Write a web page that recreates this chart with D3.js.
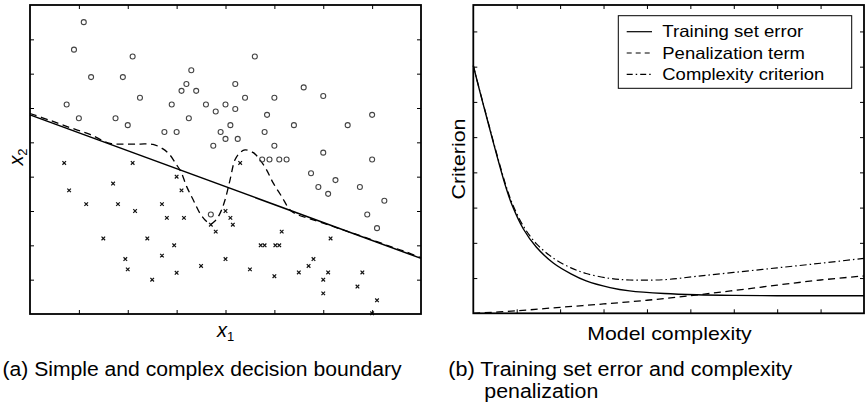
<!DOCTYPE html>
<html>
<head>
<meta charset="utf-8">
<script src="https://cdn.jsdelivr.net/npm/d3@7"></script>
<style>
  html, body { margin: 0; padding: 0; background: #fff; }
  svg { display: block; }
</style>
</head>
<body>
<svg id="chart" width="866" height="406" font-family="'Liberation Sans', Arial, Helvetica, sans-serif"></svg>
<script>
// ---------- Panel (a) data ----------
const circlesX = [1.10,0.90,2.10,1.25,1.90,3.30,3.20,3.10,3.40,2.25,0.75,2.90,3.60,3.80,1.00,1.75,3.25,2.00,2.75,3.00,3.90,3.75,
  4.60,4.20,5.60,4.40,5.00,6.00,4.00,4.20,4.85,7.00,4.10,5.40,6.50,4.80,4.00,4.25,5.00,6.00,4.75,4.90,5.10,5.25,7.00,
  5.75,6.25,5.90,6.10,6.75,7.25,6.90,7.10,3.70];
const circlesY = [8.50,7.70,7.50,6.90,6.90,7.10,6.70,6.50,6.50,6.30,6.10,6.10,6.10,5.90,5.70,5.70,5.70,5.50,5.30,5.30,5.30,4.90,
  7.50,6.70,6.60,6.30,6.30,6.35,6.10,5.97,5.80,5.80,5.50,5.50,5.50,5.30,5.10,5.10,4.90,4.70,4.50,4.50,4.50,4.50,4.50,
  4.10,3.90,3.70,3.50,3.70,3.30,2.90,2.50,2.90];
const crossesX = [0.70,2.10,4.30,3.00,1.70,0.80,3.10,1.15,1.80,2.70,2.15,4.00,2.80,3.15,4.10,3.70,4.15,3.80,5.15,6.15,1.50,2.40,
  2.95,4.72,4.80,5.02,5.10,2.70,1.95,4.00,5.80,2.00,3.50,4.50,5.70,3.00,5.50,6.10,6.80,5.00,2.50,6.00,6.70,6.00,7.10,7.00];
const crossesY = [4.40,4.40,4.40,4.00,3.80,3.60,3.60,3.20,3.20,3.20,3.00,3.00,2.80,2.80,2.80,2.60,2.60,2.40,2.40,2.20,2.20,2.20,
  2.00,2.00,2.00,2.00,2.00,1.70,1.60,1.60,1.60,1.30,1.40,1.30,1.40,1.20,1.21,1.21,1.21,1.10,1.00,1.00,0.80,0.60,0.40,0.02];
// simple (linear) boundary
const simpleX = [0, 8];
const simpleY = [5.80, 1.62];
// complex boundary
const complexX = [0,0.409,0.818,1.228,1.637,1.944,2.251,2.517,2.721,2.864,2.987,3.090,3.206,3.341,3.478,3.581,3.693,3.785,3.888,
  3.990,4.092,4.194,4.297,4.399,4.569,4.706,4.843,4.978,5.150,5.320,5.463,5.729,6.138,6.547,6.957,7.366,7.673,8];
const complexY = [5.84,5.64,5.43,5.23,4.97,4.95,4.95,4.94,4.81,4.63,4.37,4.14,3.71,3.32,2.93,2.74,2.62,2.71,2.93,
  3.32,3.90,4.49,4.70,4.78,4.70,4.49,4.19,3.81,3.42,3.03,2.90,2.77,2.58,2.38,2.18,1.97,1.82,1.64];
const aXTicks = [1,2,3,4,5,6,7];
const aYTicks = [1,2,3,4,5,6,7,8];

// ---------- Panel (b) data ----------
const curveX   = [0,0.15,0.3,0.45,0.6,0.75,0.9,1.15,1.45,1.85,2.25,2.6,3.15,3.6,4.4,5.15,6,7,8,9];
const trainErr = [7.03,6.30,5.60,4.90,4.22,3.58,3.05,2.40,1.88,1.42,1.12,0.92,0.73,0.635,0.56,0.525,0.508,0.5,0.5,0.5];
const criterion= [7.03,6.31,5.62,4.93,4.26,3.63,3.11,2.48,1.98,1.56,1.29,1.13,0.99,0.945,0.955,1.05,1.16,1.29,1.42,1.56];
const penX     = [0,1,2,3,4,5,6,7,8,9];
const penalty  = [0,0.07,0.17,0.265,0.37,0.50,0.645,0.80,0.945,1.06];
const bXTicks = [1,2,3,4,5,6,7,8];
const bYTicks = [1,2,3,4,5,6,7,8];
const legendLabels = ["Training set error","Penalization term","Complexity criterion"];

// ---------- drawing ----------
const svg = d3.select("#chart");

function frame(g, x, y, xt, yt) {
  const [x0, x1] = x.range();
  const [y0, y1] = y.range();
  const tk = 4;
  const mk = (axis, tr) => {
    const a = g.append("g").attr("transform", tr)
      .call(axis.tickSizeInner(-tk).tickSizeOuter(0).tickFormat(""));
    a.select(".domain").remove();
    a.selectAll("line").attr("stroke", "#000").attr("stroke-width", 1);
  };
  mk(d3.axisBottom(x).tickValues(xt), `translate(0,${y0})`);
  mk(d3.axisTop(x).tickValues(xt), `translate(0,${y1})`);
  mk(d3.axisLeft(y).tickValues(yt), `translate(${x0},0)`);
  mk(d3.axisRight(y).tickValues(yt), `translate(${x1},0)`);
  g.append("rect").attr("x", x0).attr("y", y1)
    .attr("width", x1 - x0).attr("height", y0 - y1)
    .attr("fill", "none").attr("stroke", "#000").attr("stroke-width", 1.8);
}

// Panel (a)
const xa = d3.scaleLinear().domain([0, 8]).range([30, 421]);
const ya = d3.scaleLinear().domain([0, 9]).range([314, 5]);
const ga = svg.append("g");

const lineA = d3.line().x(d => xa(d[0])).y(d => ya(d[1]));
ga.append("path")
  .datum(simpleX.map((v, i) => [v, simpleY[i]]))
  .attr("d", lineA).attr("fill", "none").attr("stroke", "#000").attr("stroke-width", 1.5);
ga.append("path")
  .datum(complexX.map((v, i) => [v, complexY[i]]))
  .attr("d", lineA.curve(d3.curveCatmullRom))
  .attr("fill", "none").attr("stroke", "#000").attr("stroke-width", 1.3)
  .attr("stroke-dasharray", "7,4.5");

ga.selectAll("circle.o").data(circlesX.map((v, i) => [v, circlesY[i]])).join("circle")
  .attr("class", "o")
  .attr("cx", d => xa(d[0])).attr("cy", d => ya(d[1])).attr("r", 2.5)
  .attr("fill", "none").attr("stroke", "#444").attr("stroke-width", 1.1);

const cs = 1.8;
ga.selectAll("path.x").data(crossesX.map((v, i) => [v, crossesY[i]])).join("path")
  .attr("class", "x")
  .attr("d", d => {
    const cx = xa(d[0]), cy = ya(d[1]);
    return `M${cx-cs},${cy-cs}L${cx+cs},${cy+cs}M${cx-cs},${cy+cs}L${cx+cs},${cy-cs}`;
  })
  .attr("stroke", "#111").attr("stroke-width", 1.2).attr("fill", "none");

frame(ga, xa, ya, aXTicks, aYTicks);

// axis labels (a)
const xl = ga.append("text").attr("x", 225.5).attr("y", 337)
  .attr("text-anchor", "middle").attr("font-size", 20);
xl.append("tspan").attr("font-style", "italic").text("x");
xl.append("tspan").attr("font-size", 13).attr("dy", 4).text("1");

const yl = ga.append("text").attr("transform", "translate(23,157) rotate(-90)")
  .attr("text-anchor", "middle").attr("font-size", 20);
yl.append("tspan").attr("font-style", "italic").text("x");
yl.append("tspan").attr("font-size", 13).attr("dy", 4).text("2");

// Panel (b)
const xb = d3.scaleLinear().domain([0, 9]).range([473.3, 864]);
const yb = d3.scaleLinear().domain([0, 8.75]).range([313.3, 5]);
const gb = svg.append("g");

const lineB = d3.line().x(d => xb(d[0])).y(d => yb(d[1])).curve(d3.curveCatmullRom.alpha(0.5));
gb.append("path").datum(curveX.map((v, i) => [v, criterion[i]]))
  .attr("d", lineB).attr("fill", "none").attr("stroke", "#000").attr("stroke-width", 1.2)
  .attr("stroke-dasharray", "7,3,1.5,3");
gb.append("path").datum(penX.map((v, i) => [v, penalty[i]]))
  .attr("d", lineB).attr("fill", "none").attr("stroke", "#000").attr("stroke-width", 1.3)
  .attr("stroke-dasharray", "7,4.5");
gb.append("path").datum(curveX.map((v, i) => [v, trainErr[i]]))
  .attr("d", lineB).attr("fill", "none").attr("stroke", "#000").attr("stroke-width", 1.4);

frame(gb, xb, yb, bXTicks, bYTicks);

// legend
const lg = gb.append("g");
lg.append("rect").attr("x", 618.3).attr("y", 15.7).attr("width", 233.4).attr("height", 72.6)
  .attr("fill", "#fff").attr("stroke", "#000").attr("stroke-width", 1);
const dashes = [null, "5,4", "6,3,1.5,3"];
const widths = [141, 142.7, 162];
legendLabels.forEach((lab, i) => {
  const cy = 31.7 + i * 21.3;
  lg.append("line").attr("x1", 626.7).attr("x2", 652).attr("y1", cy).attr("y2", cy)
    .attr("stroke", "#000").attr("stroke-width", 1.2)
    .attr("stroke-dasharray", dashes[i]);
  lg.append("text").attr("x", 662.3).attr("y", cy + 5.7).attr("font-size", 16.5)
    .attr("textLength", widths[i]).attr("lengthAdjust", "spacingAndGlyphs").text(lab);
});

gb.append("text").attr("x", 587.3).attr("y", 340).attr("font-size", 19)
  .attr("textLength", 164.4).attr("lengthAdjust", "spacingAndGlyphs").text("Model complexity");
gb.append("text").attr("transform", "translate(465,159) rotate(-90)")
  .attr("text-anchor", "middle").attr("font-size", 19)
  .attr("textLength", 81).attr("lengthAdjust", "spacingAndGlyphs").text("Criterion");

// captions
svg.append("text").attr("x", 2.5).attr("y", 376).attr("font-size", 19.5)
  .attr("textLength", 399).attr("lengthAdjust", "spacingAndGlyphs")
  .text("(a) Simple and complex decision boundary");
svg.append("text").attr("x", 448.3).attr("y", 376).attr("font-size", 19.5)
  .attr("textLength", 344).attr("lengthAdjust", "spacingAndGlyphs")
  .text("(b) Training set error and complexity");
svg.append("text").attr("x", 484.3).attr("y", 398.3).attr("font-size", 19.5)
  .attr("textLength", 114).attr("lengthAdjust", "spacingAndGlyphs")
  .text("penalization");
</script>
</body>
</html>
